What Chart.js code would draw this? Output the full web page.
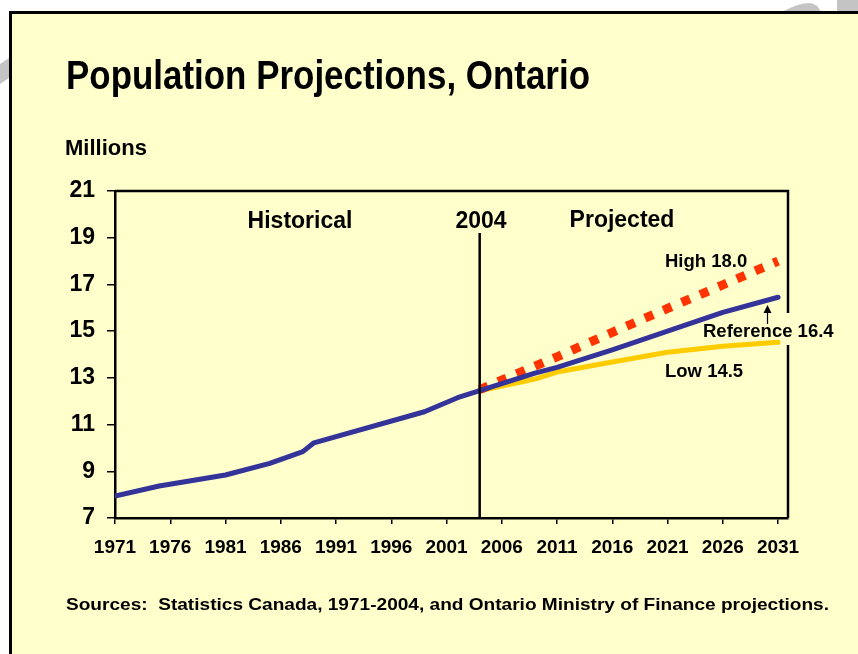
<!DOCTYPE html>
<html lang="en">
<head>
<meta charset="UTF-8">
<title>Population Projections, Ontario</title>
<style>
    body {
        margin: 0;
        padding: 0;
        background: #fff;
    }

    #chart {
        display: block;
    }
</style>
</head>
<body>
<canvas id="chart" width="858" height="654"></canvas>

<script src="https://cdn.jsdelivr.net/npm/chart.js"></script>
<script>
    // historical estimates (millions)
    const histYears = [1971, 1975, 1981, 1985, 1988, 1989, 1999, 2002, 2004];
    const histPop = [7.94, 8.37, 8.84, 9.34, 9.84, 10.22, 11.55, 12.15, 12.45];

    // projections, three scenarios
    const projYears = [2004, 2009, 2011, 2016, 2021, 2026, 2031];
    const refPop = [12.45, 13.2, 13.45, 14.2, 15.0, 15.8, 16.45];
    const highPop = [12.5, 13.5, 13.9, 14.95, 15.97, 16.98, 18.0];
    const lowPop = [12.45, 12.95, 13.25, 13.68, 14.1, 14.35, 14.52];

    const xTicks = [1971, 1976, 1981, 1986, 1991, 1996, 2001, 2006, 2011, 2016, 2021, 2026, 2031];
    const yTicks = [7, 9, 11, 13, 15, 17, 19, 21];
    const splitYear = 2004;
    const arrowYear = 2030;

    const FONT = "'Liberation Sans', Arial, Helvetica, sans-serif";

    function pts(xs, ys) {
        return xs.map((x, i) => ({ x: x, y: ys[i] }));
    }

    // bold text, optionally squeezed horizontally to a given width
    function drawText(ctx, str, x, y, size, align, fitWidth) {
        ctx.save();
        ctx.font = "bold " + size + "px " + FONT;
        ctx.fillStyle = "#000";
        ctx.textBaseline = "alphabetic";
        let w = ctx.measureText(str).width;
        let sx = fitWidth ? fitWidth / w : 1;
        let left = x;
        if (align === "center") left = x - (w * sx) / 2;
        ctx.translate(left, y);
        ctx.scale(sx, 1);
        ctx.textAlign = "left";
        ctx.fillText(str, 0, 0);
        ctx.restore();
    }

    const framePlugin = {
        id: "frame",
        beforeDraw(chart) {
            const ctx = chart.ctx;
            ctx.save();
            ctx.fillStyle = "#fff";
            ctx.fillRect(0, 0, chart.width, chart.height);

            // bits of the watermark showing outside the panel
            ctx.fillStyle = "#c4c4c4";
            ctx.beginPath();
            ctx.moveTo(782, 12);
            ctx.quadraticCurveTo(798, 3, 810, 3);
            ctx.quadraticCurveTo(818, 4, 821, 12);
            ctx.closePath();
            ctx.fill();
            ctx.fillRect(837, 0, 21, 12);
            ctx.beginPath();
            ctx.moveTo(0, 64);
            ctx.lineTo(9, 58);
            ctx.lineTo(9, 78);
            ctx.lineTo(0, 84);
            ctx.closePath();
            ctx.fill();

            ctx.fillStyle = "#ffffcc";
            ctx.fillRect(10.5, 12.5, 900, 700);
            ctx.strokeStyle = "#000";
            ctx.lineWidth = 3;
            ctx.strokeRect(10.5, 12.5, 900, 700);
            ctx.restore();
        },
        beforeDatasetsDraw(chart) {
            const ctx = chart.ctx;
            const a = chart.chartArea;
            ctx.save();
            ctx.strokeStyle = "#000";
            ctx.lineWidth = 2.5;
            ctx.beginPath();
            ctx.moveTo(a.left, a.top);
            ctx.lineTo(a.right, a.top);
            ctx.lineTo(a.right, a.bottom);
            ctx.stroke();

            // box behind the reference label
            ctx.fillStyle = "#ffffcc";
            ctx.fillRect(700, 313, 140, 32);
            ctx.restore();
        },
        afterDatasetsDraw(chart) {
            const ctx = chart.ctx;
            const a = chart.chartArea;
            const xs = chart.scales.x;
            const x = xs.getPixelForValue(splitYear);
            ctx.save();
            ctx.strokeStyle = "#000";
            ctx.lineWidth = 2.5;
            ctx.beginPath();
            ctx.moveTo(x, 233);
            ctx.lineTo(x, a.bottom);
            ctx.stroke();

            // arrow up to the reference line
            const ax = Math.round(xs.getPixelForValue(arrowYear)) + 0.5;
            ctx.lineWidth = 1.2;
            ctx.beginPath();
            ctx.moveTo(ax, 324);
            ctx.lineTo(ax, 310);
            ctx.stroke();
            ctx.fillStyle = "#000";
            ctx.beginPath();
            ctx.moveTo(ax, 305);
            ctx.lineTo(ax - 4, 313);
            ctx.lineTo(ax + 4, 313);
            ctx.closePath();
            ctx.fill();
            ctx.restore();
        },
        afterDraw(chart) {
            const ctx = chart.ctx;
            drawText(ctx, "Population Projections, Ontario", 66, 89, 41, "left", 524);
            drawText(ctx, "Millions", 65, 155, 22, "left");
            drawText(ctx, "Historical", 300, 228, 23, "center");
            drawText(ctx, "2004", 481, 228, 23, "center");
            drawText(ctx, "Projected", 622, 227, 23, "center");
            drawText(ctx, "High 18.0", 665, 267, 18.5, "left");
            drawText(ctx, "Reference 16.4", 703, 336.5, 18.5, "left");
            drawText(ctx, "Low 14.5", 665, 377, 18.5, "left");
            drawText(ctx, "Sources:  Statistics Canada, 1971-2004, and Ontario Ministry of Finance projections.", 66, 610, 17, "left", 763);
        }
    };

    const ctx = document.getElementById("chart").getContext("2d");

    new Chart(ctx, {
        type: "line",
        data: {
            datasets: [{
                label: "Historical",
                data: pts(histYears, histPop),
                borderColor: "#333399",
                borderWidth: 5,
                order: 0
            }, {
                label: "Reference",
                data: pts(projYears, refPop),
                borderColor: "#333399",
                borderWidth: 5,
                order: 1
            }, {
                label: "High",
                data: pts(projYears, highPop),
                borderColor: "#ff3300",
                borderWidth: 9,
                borderDash: [9, 11],
                borderCapStyle: "butt",
                order: 2
            }, {
                label: "Low",
                data: pts(projYears, lowPop),
                borderColor: "#ffcc00",
                borderWidth: 5,
                order: 3
            }]
        },
        options: {
            responsive: false,
            animation: false,
            devicePixelRatio: 1,
            layout: {
                padding: { left: 55, right: 70, top: 191, bottom: 96 }
            },
            elements: {
                point: { radius: 0 },
                line: { tension: 0, borderJoinStyle: "round", borderCapStyle: "round", fill: false }
            },
            plugins: {
                legend: { display: false },
                tooltip: { enabled: false }
            },
            scales: {
                x: {
                    type: "linear",
                    min: 1971,
                    max: 2031.9,
                    afterFit: (s) => { s.height = 40; },
                    afterBuildTicks: (s) => { s.ticks = xTicks.map(v => ({ value: v })); },
                    ticks: {
                        callback: (v) => String(v),
                        font: { family: FONT, size: 19, weight: "bold" },
                        color: "#000",
                        padding: 12,
                        maxRotation: 0,
                        autoSkip: false
                    },
                    grid: { drawOnChartArea: false, tickLength: 6, color: "#000", lineWidth: 1.5 },
                    border: { color: "#000", width: 2.5 }
                },
                y: {
                    min: 7,
                    max: 21,
                    afterFit: (s) => { s.width = 60; },
                    afterBuildTicks: (s) => { s.ticks = yTicks.map(v => ({ value: v })); },
                    ticks: {
                        callback: (v) => String(v),
                        font: { family: FONT, size: 23, weight: "bold" },
                        color: "#000",
                        padding: 12
                    },
                    grid: { drawOnChartArea: false, tickLength: 8, color: "#000", lineWidth: 1.5 },
                    border: { color: "#000", width: 2.5 }
                }
            }
        },
        plugins: [framePlugin]
    });
</script>
</body>
</html>
